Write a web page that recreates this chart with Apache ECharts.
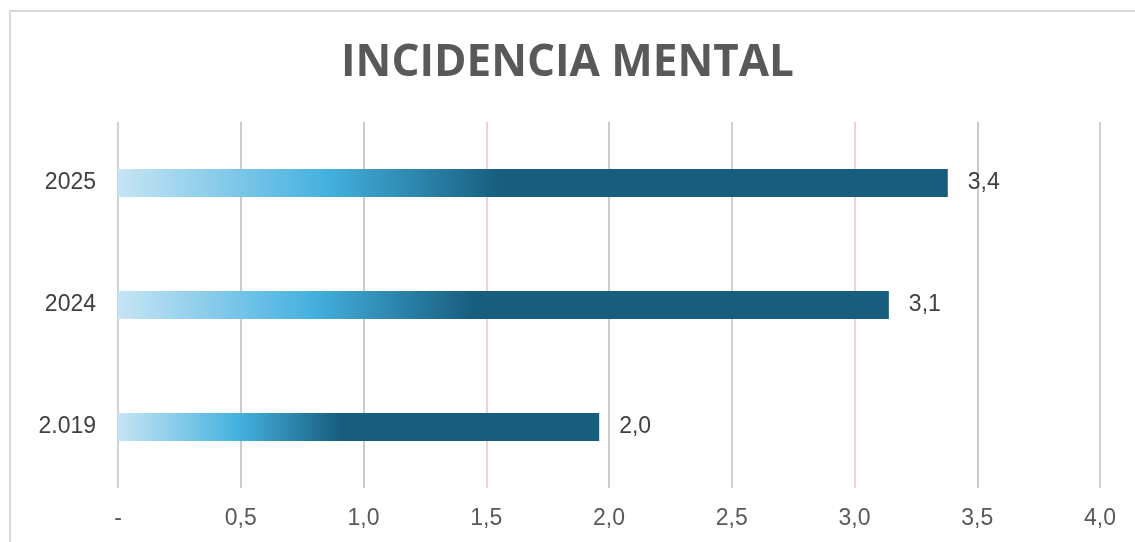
<!DOCTYPE html>
<html>
<head>
<meta charset="utf-8">
<script src="https://cdn.jsdelivr.net/npm/echarts@6/dist/echarts.min.js"></script>
<style>
html,body{margin:0;padding:0;background:#fff;}
#chart{width:1135px;height:542px;}
</style>
</head>
<body>
<div id="chart"></div>
<script>
const titleText = 'INCIDENCIA MENTAL';
const categories = ['2.019', '2024', '2025'];
const values = [1.96, 3.14, 3.38];
const xMin = 0, xMax = 4, xStep = 0.5;

const fmt = v => v === 0 ? '-' : (Math.round(v * 10) / 10).toFixed(1).replace('.', ',');

const chart = echarts.init(document.getElementById('chart'), null, {renderer: 'canvas'});
chart.setOption({
  animation: false,
  backgroundColor: '#ffffff',
  title: {
    text: titleText,
    left: 'center',
    top: 36,
    textStyle: {fontFamily: 'Open Sans', fontWeight: 'bold', fontSize: 44, color: '#595959'}
  },
  graphic: [{
    type: 'rect',
    shape: {x: 10, y: 11, width: 1200, height: 600},
    style: {fill: 'none', stroke: '#d9d9d9', lineWidth: 2},
    silent: true
  }],
  grid: {left: 118, right: 35, top: 122, bottom: 54, containLabel: false},
  xAxis: {
    type: 'value',
    min: xMin, max: xMax, interval: xStep,
    axisLine: {show: false},
    axisTick: {show: false},
    axisLabel: {
      formatter: fmt,
      fontFamily: 'Liberation Sans, Arial',
      fontSize: 23,
      color: '#595959',
      margin: 19
    },
    splitLine: {
      show: true,
      lineStyle: {
        width: 2,
        color: ['#d0d0d0', '#cbcbcb', '#cbcbcb', '#ecd3d9', '#cbcbcb', '#d3cdd0', '#ecd3d9', '#cbcbcb', '#d6ccd0']
      }
    }
  },
  yAxis: {
    type: 'category',
    data: categories,
    axisLine: {show: false},
    axisTick: {show: false},
    axisLabel: {
      fontFamily: 'Liberation Sans, Arial',
      fontSize: 23,
      color: '#404040',
      margin: 22
    }
  },
  series: [{
    type: 'bar',
    data: values,
    barWidth: 28,
    itemStyle: {
      color: new echarts.graphic.LinearGradient(0, 0, 1, 0, [
        {offset: 0, color: '#c6e4f4'},
        {offset: 0.25, color: '#45b1e0'},
        {offset: 0.46, color: '#175e7e'},
        {offset: 1, color: '#175e7e'}
      ])
    },
    label: {
      show: true,
      position: 'right',
      distance: 20,
      formatter: p => fmt(p.value),
      fontFamily: 'Liberation Sans, Arial',
      fontSize: 23,
      color: '#404040'
    }
  }]
});
</script>
</body>
</html>
